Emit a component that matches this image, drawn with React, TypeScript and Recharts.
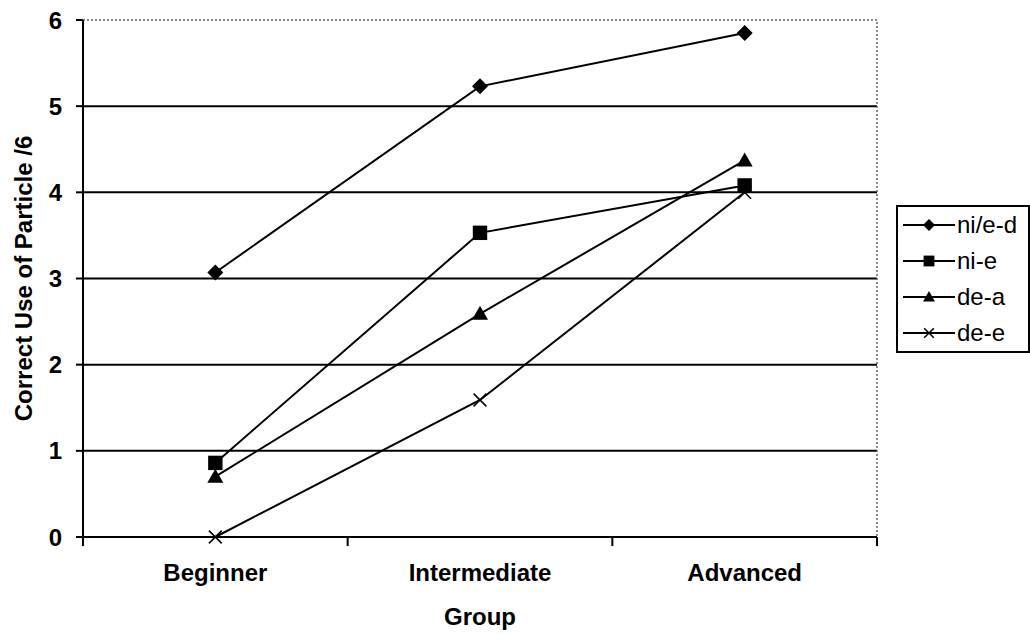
import React from 'react';
import {
  LineChart,
  Line,
  XAxis,
  YAxis,
  CartesianGrid,
  ReferenceArea,
  Legend,
} from 'recharts';

const groups = ['Beginner', 'Intermediate', 'Advanced'];
const seriesNames = ['ni/e-d', 'ni-e', 'de-a', 'de-e'];
const niED = [3.07, 5.23, 5.85];
const niE = [0.86, 3.53, 4.08];
const deA = [0.7, 2.59, 4.37];
const deE = [0, 1.59, 4.0];
const yTicks = [0, 1, 2, 3, 4, 5, 6];
const gridValues = [1, 2, 3, 4, 5];

const seriesValues = [niED, niE, deA, deE];
const markerKinds = ['diamond', 'square', 'triangle', 'cross'];

const data = groups.map((group, i) => {
  const row: Record<string, string | number> = { group };
  seriesNames.forEach((name, s) => {
    row[name] = seriesValues[s][i];
  });
  return row;
});

const FONT = '"Liberation Sans", Arial, Helvetica, sans-serif';

const marker = (kind: string, cx: number, cy: number, r: number, key?: string) => {
  if (kind === 'diamond') {
    return (
      <polygon
        key={key}
        points={`${cx},${cy - r} ${cx + r},${cy} ${cx},${cy + r} ${cx - r},${cy}`}
        fill="#000"
      />
    );
  }
  if (kind === 'square') {
    const h = r * 0.9;
    return <rect key={key} x={cx - h} y={cy - h} width={h * 2} height={h * 2} fill="#000" />;
  }
  if (kind === 'triangle') {
    return (
      <polygon
        key={key}
        points={`${cx},${cy - r} ${cx + r},${cy + r * 0.75} ${cx - r},${cy + r * 0.75}`}
        fill="#000"
      />
    );
  }
  const h = r * 0.8;
  return (
    <g key={key}>
      <line x1={cx - h} y1={cy - h} x2={cx + h} y2={cy + h} stroke="#000" strokeWidth={1.5} />
      <line x1={cx - h} y1={cy + h} x2={cx + h} y2={cy - h} stroke="#000" strokeWidth={1.5} />
    </g>
  );
};

const makeDot = (kind: string) => (props: any) =>
  marker(kind, props.cx, props.cy, 8, `${kind}-${props.index}`);

// category tick: label at band centre, tick marks at the band edges
const GroupTick = (props: any) => {
  const { x, y, payload, index, visibleTicksCount } = props;
  const half = payload.offset || 0;
  return (
    <g>
      <line x1={x - half} x2={x - half} y1={y} y2={y + 9} stroke="#000" strokeWidth={2} />
      {index === visibleTicksCount - 1 && (
        <line x1={x + half} x2={x + half} y1={y} y2={y + 9} stroke="#000" strokeWidth={2} />
      )}
      <text
        x={x}
        y={y + 27}
        dy="0.71em"
        textAnchor="middle"
        fontSize={24}
        fontWeight="bold"
        fill="#000"
      >
        {payload.value}
      </text>
    </g>
  );
};

const LegendBox = () => (
  <div
    style={{
      border: '2px solid #000',
      background: '#fff',
      width: 134,
      boxSizing: 'border-box',
      padding: '0 0 0 5px',
      fontFamily: FONT,
      fontSize: 24,
      color: '#000',
    }}
  >
    {seriesNames.map((name, i) => (
      <div key={name} style={{ display: 'flex', alignItems: 'center', height: 36 }}>
        <svg width={52} height={20}>
          <line x1={0} y1={10} x2={52} y2={10} stroke="#000" strokeWidth={2} />
          {marker(markerKinds[i], 26, 10, 6)}
        </svg>
        <span style={{ marginLeft: 2, lineHeight: '36px' }}>{name}</span>
      </div>
    ))}
  </div>
);

export default function App() {
  return (
    <div style={{ position: 'absolute', left: 0, top: 0, background: '#fff' }}>
      <LineChart
        width={1030}
        height={634}
        data={data}
        margin={{ top: 20, right: 153, bottom: 0, left: 0 }}
        style={{ fontFamily: FONT }}
      >
        <ReferenceArea
          x1={groups[0]}
          x2={groups[groups.length - 1]}
          y1={0}
          y2={6}
          fill="none"
          fillOpacity={0}
          stroke="#666"
          strokeWidth={1.5}
          strokeDasharray="2 2"
        />
        <CartesianGrid
          vertical={false}
          horizontalValues={gridValues}
          stroke="#000"
          strokeWidth={2}
        />
        <XAxis
          dataKey="group"
          scale="band"
          height={97}
          tickLine={false}
          axisLine={{ stroke: '#000', strokeWidth: 2 }}
          tickSize={0}
          tickMargin={0}
          tick={<GroupTick />}
          label={{
            value: 'Group',
            position: 'insideBottom',
            offset: 9,
            style: { fontSize: 24, fontWeight: 'bold', fill: '#000' },
          }}
        />
        <YAxis
          width={83}
          domain={[0, 6]}
          ticks={yTicks}
          tickSize={7}
          tickMargin={14}
          axisLine={{ stroke: '#000', strokeWidth: 2 }}
          tickLine={{ stroke: '#000', strokeWidth: 2 }}
          tick={{ fontSize: 24, fontWeight: 'bold', fill: '#000' }}
          label={{
            value: 'Correct Use of Particle /6',
            angle: -90,
            position: 'insideLeft',
            offset: 23,
            style: { fontSize: 24, fontWeight: 'bold', fill: '#000', textAnchor: 'middle' },
          }}
        />
        {seriesNames.map((name, i) => (
          <Line
            key={name}
            type="linear"
            dataKey={name}
            stroke="#000"
            strokeWidth={2}
            dot={makeDot(markerKinds[i])}
            activeDot={false}
            isAnimationActive={false}
          />
        ))}
        <Legend
          layout="vertical"
          align="center"
          verticalAlign="middle"
          content={() => <LegendBox />}
          wrapperStyle={{ left: 896, top: 205, width: 134 }}
        />
      </LineChart>
    </div>
  );
}
